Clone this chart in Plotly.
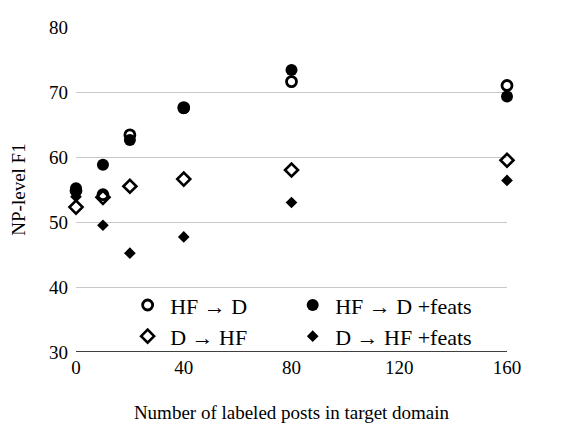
import plotly.graph_objects as go

# Data
x_labeled = [0, 10, 20, 40, 80, 160]
hf_to_d = [54.8, 54.2, 63.4, 67.6, 71.6, 71.0]
hf_to_d_feats = [55.2, 58.8, 62.6, 67.5, 73.4, 69.3]
d_to_hf = [52.3, 53.8, 55.5, 56.6, 58.0, 59.5]
d_to_hf_feats = [53.9, 49.5, 45.2, 47.7, 53.0, 56.4]

x_ticks = [0, 40, 80, 120, 160]
y_ticks = [30, 40, 50, 60, 70, 80]

FONT = "Liberation Serif, Times New Roman, serif"

fig = go.Figure()

series = [
    ("HF \u2192 D", hf_to_d, "circle-open", 10, 2.8, "legend"),
    ("HF \u2192 D +feats", hf_to_d_feats, "circle", 12, 0, "legend2"),
    ("D \u2192 HF", d_to_hf, "diamond-open", 10, 2.6, "legend3"),
    ("D \u2192 HF +feats", d_to_hf_feats, "diamond", 9, 0, "legend4"),
]

for name, ys, sym, size, lw, leg in series:
    fig.add_trace(go.Scatter(
        x=x_labeled, y=ys, mode="markers", name=name,
        marker=dict(symbol=sym, size=size, color="black",
                    line=dict(color="black", width=lw)),
        cliponaxis=False, legend=leg,
    ))

def leg(x, y):
    return dict(x=x, y=y, xanchor="left", yanchor="middle",
                bgcolor="rgba(0,0,0,0)", font=dict(family=FONT, size=22, color="black"),
                itemsizing="trace", itemwidth=35)

fig.update_layout(
    width=577, height=423,
    margin=dict(l=76, r=70, t=27, b=71, autoexpand=False),
    plot_bgcolor="white", paper_bgcolor="white",
    font=dict(family=FONT, size=19, color="black"),
    showlegend=True,
    legend=leg(0.114, 0.144),
    legend2=leg(0.497, 0.144),
    legend3=leg(0.114, 0.048),
    legend4=leg(0.497, 0.048),
    xaxis=dict(
        range=[0, 160], tickvals=x_ticks, showgrid=False, zeroline=False,
        showline=False, ticks="", tickfont=dict(family=FONT, size=19),
        ticklabelstandoff=2, automargin=False,
        title=dict(text="Number of labeled posts in target domain",
                   font=dict(family=FONT, size=19), standoff=36),
    ),
    yaxis=dict(
        range=[30, 80], tickvals=y_ticks, showgrid=True, gridcolor="#c8c8c8",
        gridwidth=1, zeroline=False, showline=False, ticks="",
        tickfont=dict(family=FONT, size=19), ticklabelstandoff=7, automargin=False,
        title=dict(text="NP-level F1", font=dict(family=FONT, size=19), standoff=18),
    ),
    shapes=[dict(type="line", xref="paper", yref="y", x0=0, x1=1, y0=30, y1=30,
                 line=dict(color="black", width=1.3), layer="above")],
)

fig.write_html("out.html", config={"displayModeBar": False},
               post_script="document.body.style.margin='0';")
